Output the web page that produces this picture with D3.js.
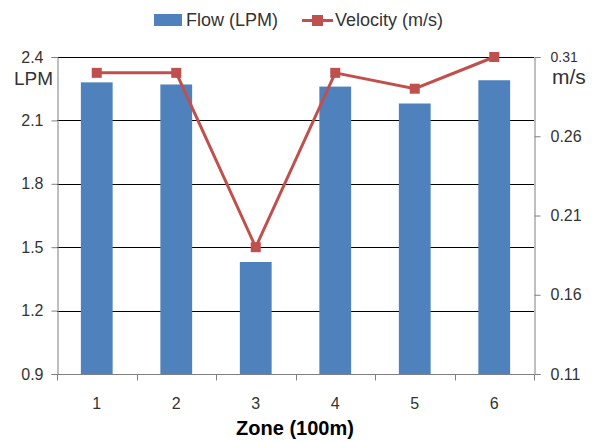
<!DOCTYPE html>
<html>
<head>
<meta charset="utf-8">
<script src="https://cdn.jsdelivr.net/npm/d3@7"></script>
<style>
  body { margin: 0; background: #fff; }
  svg text { font-family: "Liberation Sans", Arial, sans-serif; fill: #333; }
</style>
</head>
<body>
<svg id="chart" width="598" height="441"></svg>
<script>
// Data
const zones = ['1', '2', '3', '4', '5', '6'];
const flow = [2.28, 2.27, 1.43, 2.26, 2.18, 2.29];
const velocity = [0.30, 0.30, 0.19, 0.30, 0.29, 0.31];
const flowTicks = [0.9, 1.2, 1.5, 1.8, 2.1, 2.4];
const velTicks = [0.11, 0.16, 0.21, 0.26, 0.31];

const BLUE = '#4f81bd';
const RED = '#c0504d';

const svg = d3.select('#chart');

// plot area
const plotL = 57, plotR = 534, plotT = 57, plotB = 374;

const x = d3.scaleBand()
  .domain(zones)
  .range([plotL, plotR])
  .paddingInner(0.6)
  .paddingOuter(0.3);

const step = (plotR - plotL) / zones.length;

const yFlow = d3.scaleLinear().domain([0.9, 2.4]).range([plotB, plotT]);
const yVel = d3.scaleLinear().domain([0.11, 0.31]).range([plotB, plotT]);

// Horizontal gridlines
svg.append('g')
  .selectAll('line')
  .data(flowTicks.slice(1))
  .join('line')
  .attr('x1', plotL)
  .attr('x2', plotR)
  .attr('y1', d => Math.round(yFlow(d)) + 0.5)
  .attr('y2', d => Math.round(yFlow(d)) + 0.5)
  .attr('stroke', '#000')
  .attr('stroke-width', 1);

// Bars
svg.append('g')
  .selectAll('rect')
  .data(flow)
  .join('rect')
  .attr('x', (d, i) => x(zones[i]))
  .attr('y', d => yFlow(d))
  .attr('width', x.bandwidth())
  .attr('height', d => plotB - yFlow(d))
  .attr('fill', BLUE);

// Left axis
const axisL = svg.append('g')
  .attr('transform', `translate(${plotL + 0.5},0)`)
  .call(d3.axisLeft(yFlow).tickValues(flowTicks).tickFormat(d3.format('.1f')).tickSize(6).tickPadding(8));
axisL.select('.domain').attr('stroke', '#808080');
axisL.selectAll('.tick line').attr('stroke', '#808080');
axisL.selectAll('text').attr('font-size', 16).attr('font-family', null).attr('fill', '#333');

// Right axis
const axisR = svg.append('g')
  .attr('transform', `translate(${plotR + 0.5},0)`)
  .call(d3.axisRight(yVel).tickValues(velTicks).tickFormat(d3.format('.2f')).tickSize(6).tickPadding(10));
axisR.select('.domain').attr('stroke', '#808080');
axisR.selectAll('.tick line').attr('stroke', '#808080');
axisR.selectAll('text').attr('font-size', d => d === 0.31 ? 14 : 16).attr('fill', '#333');

// Bottom axis with ticks between categories
const bx = svg.append('g').attr('transform', `translate(0,${plotB + 0.5})`);
bx.append('line')
  .attr('x1', plotL).attr('x2', plotR)
  .attr('stroke', '#808080');
bx.selectAll('line.tk')
  .data(d3.range(zones.length + 1))
  .join('line')
  .attr('class', 'tk')
  .attr('x1', i => Math.round(plotL + i * step) + 0.5)
  .attr('x2', i => Math.round(plotL + i * step) + 0.5)
  .attr('y1', 0).attr('y2', 6)
  .attr('stroke', '#808080');
bx.selectAll('text')
  .data(zones)
  .join('text')
  .attr('x', d => x(d) + x.bandwidth() / 2)
  .attr('y', 34)
  .attr('text-anchor', 'middle')
  .attr('font-size', 16)
  .text(d => d);

// Velocity line
const line = d3.line()
  .x((d, i) => x(zones[i]) + x.bandwidth() / 2)
  .y(d => yVel(d));

svg.append('path')
  .datum(velocity)
  .attr('d', line)
  .attr('fill', 'none')
  .attr('stroke', RED)
  .attr('stroke-width', 3);

svg.append('g')
  .selectAll('rect')
  .data(velocity)
  .join('rect')
  .attr('x', (d, i) => x(zones[i]) + x.bandwidth() / 2 - 5)
  .attr('y', d => yVel(d) - 5)
  .attr('width', 10)
  .attr('height', 10)
  .attr('fill', RED);

// Unit labels
svg.append('text')
  .attr('x', 14).attr('y', 85)
  .attr('font-size', 19)
  .text('LPM');

svg.append('text')
  .attr('x', 552).attr('y', 84)
  .attr('font-size', 21)
  .text('m/s');

// X axis title
svg.append('text')
  .attr('x', 295).attr('y', 435)
  .attr('text-anchor', 'middle')
  .attr('font-size', 20)
  .attr('font-weight', 'bold')
  .style('fill', '#000')
  .text('Zone (100m)');

// Legend
const legend = svg.append('g');
legend.append('rect')
  .attr('x', 154).attr('y', 14)
  .attr('width', 28).attr('height', 12)
  .attr('fill', BLUE);
legend.append('text')
  .attr('x', 186).attr('y', 26)
  .attr('font-size', 18)
  .text('Flow (LPM)');
legend.append('line')
  .attr('x1', 302).attr('x2', 333)
  .attr('y1', 20.5).attr('y2', 20.5)
  .attr('stroke', RED).attr('stroke-width', 3);
legend.append('rect')
  .attr('x', 312).attr('y', 15)
  .attr('width', 11).attr('height', 11)
  .attr('fill', RED);
legend.append('text')
  .attr('x', 335).attr('y', 26)
  .attr('font-size', 18)
  .text('Velocity (m/s)');
</script>
</body>
</html>
